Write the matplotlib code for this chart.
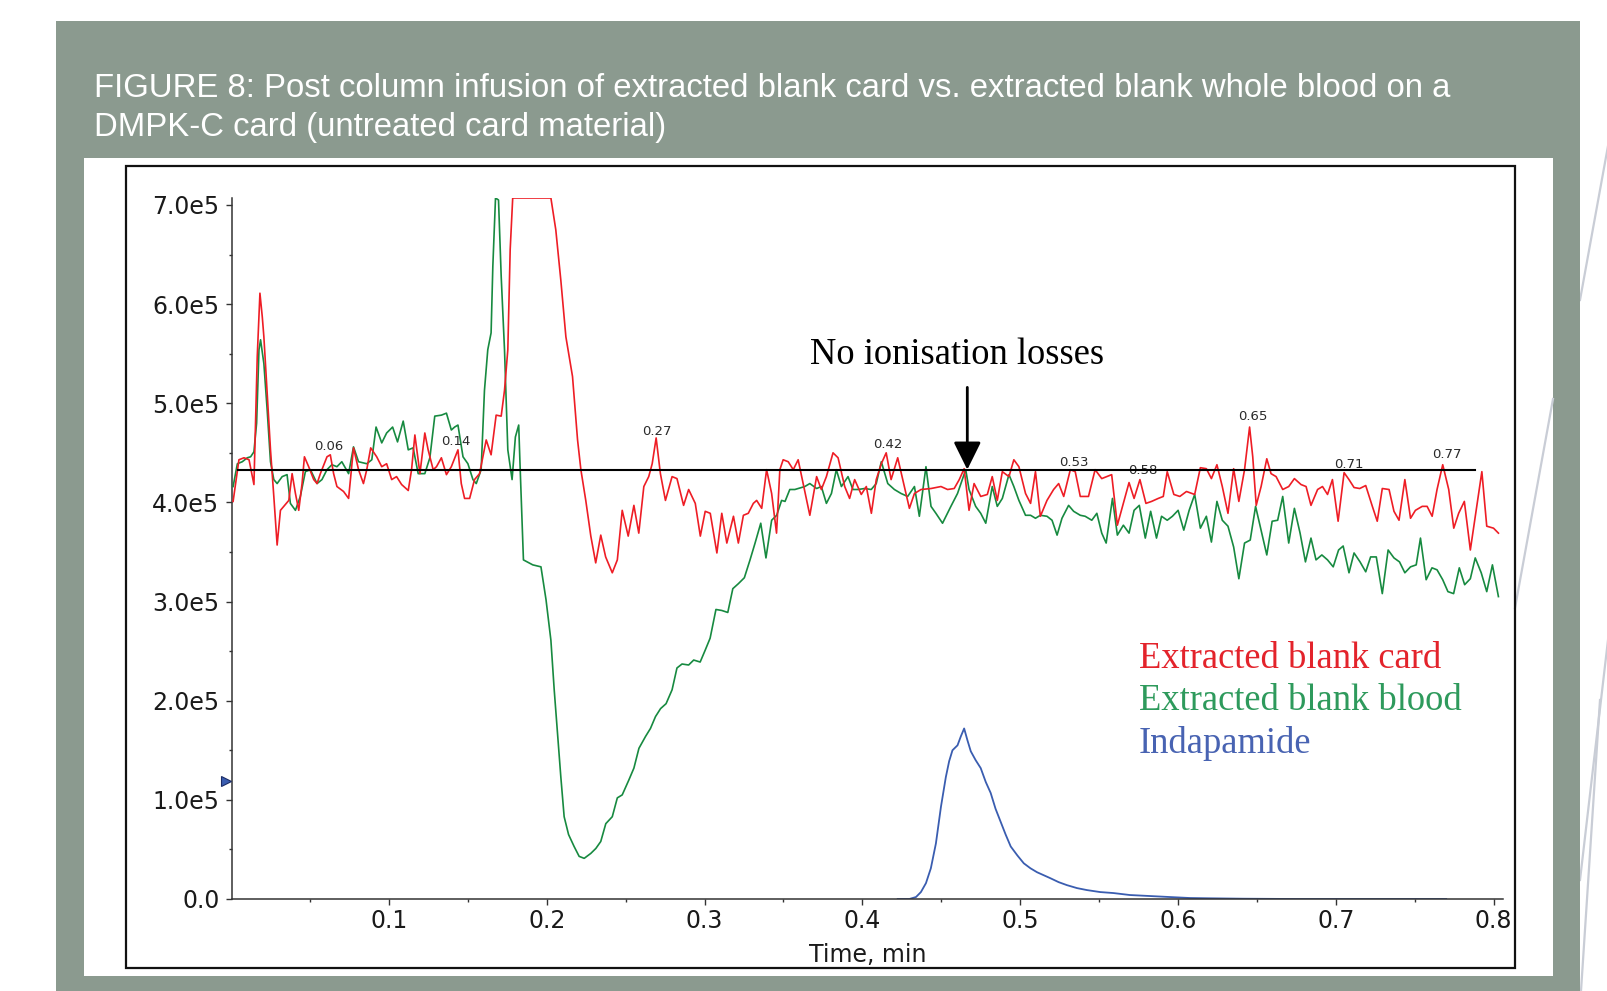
import numpy as np
import matplotlib
matplotlib.use("Agg")
import matplotlib.pyplot as plt
from matplotlib.patches import Rectangle
from matplotlib.lines import Line2D
from matplotlib.ticker import MultipleLocator, FuncFormatter

# ---------------- data (time in min, intensity in units of 1e5 cps) ----------------
red_t = [0.0012, 0.0049, 0.0081, 0.0113, 0.0144, 0.0165, 0.0182, 0.0197, 0.0207, 0.0249, 0.0270, 0.0291,
         0.0312, 0.0333, 0.0365, 0.0386, 0.0407, 0.0428, 0.0449, 0.0464, 0.0491, 0.0523, 0.0544, 0.0565,
         0.0607, 0.0628, 0.0649, 0.0670, 0.0712, 0.0744, 0.0775, 0.0807, 0.0838, 0.0859, 0.0884, 0.0922,
         0.0954, 0.0985, 0.1017, 0.1048, 0.1080, 0.1122, 0.1143, 0.1164, 0.1196, 0.1227, 0.1248, 0.1280,
         0.1301, 0.1332, 0.1364, 0.1395, 0.1437, 0.1458, 0.1479, 0.1511, 0.1542, 0.1574, 0.1616, 0.1647,
         0.1679, 0.1711, 0.1732, 0.1753, 0.1768, 0.1784, 0.2026, 0.2057, 0.2089, 0.2121, 0.2163, 0.2195,
         0.2216, 0.2247, 0.2279, 0.2310, 0.2342, 0.2373, 0.2415, 0.2447, 0.2478, 0.2516, 0.2552, 0.2583,
         0.2615, 0.2646, 0.2668, 0.2693, 0.2720, 0.2752, 0.2794, 0.2825, 0.2867, 0.2899, 0.2941, 0.2973,
         0.3004, 0.3036, 0.3078, 0.3109, 0.3141, 0.3183, 0.3214, 0.3246, 0.3277, 0.3309, 0.3330, 0.3362,
         0.3393, 0.3425, 0.3456, 0.3477, 0.3498, 0.3530, 0.3562, 0.3593, 0.3667, 0.3710, 0.3740, 0.3772,
         0.3814, 0.3846, 0.3888, 0.3919, 0.3951, 0.3993, 0.4025, 0.4057, 0.4088, 0.4120, 0.4151, 0.4182,
         0.4224, 0.4256, 0.4298, 0.4330, 0.4372, 0.4435, 0.4498, 0.4540, 0.4582, 0.4614, 0.4645, 0.4676,
         0.4708, 0.4750, 0.4792, 0.4823, 0.4855, 0.4887, 0.4929, 0.4960, 0.4992, 0.5034, 0.5066, 0.5097,
         0.5128, 0.5170, 0.5212, 0.5244, 0.5276, 0.5318, 0.5349, 0.5381, 0.5433, 0.5475, 0.5517, 0.5549,
         0.5580, 0.5616, 0.5654, 0.5690, 0.5722, 0.5759, 0.5797, 0.5833, 0.5875, 0.5907, 0.5932, 0.5974,
         0.6012, 0.6054, 0.6106, 0.6142, 0.6180, 0.6212, 0.6247, 0.6281, 0.6317, 0.6353, 0.6386, 0.6422,
         0.6454, 0.6474, 0.6496, 0.6527, 0.6563, 0.6590, 0.6622, 0.6664, 0.6702, 0.6738, 0.6780, 0.6812,
         0.6843, 0.6885, 0.6916, 0.6948, 0.6979, 0.7015, 0.7053, 0.7084, 0.7116, 0.7152, 0.7190, 0.7232,
         0.7263, 0.7295, 0.7338, 0.7369, 0.7401, 0.7438, 0.7474, 0.7505, 0.7548, 0.7579, 0.7611, 0.7642,
         0.7678, 0.7716, 0.7748, 0.7779, 0.7815, 0.7853, 0.7894, 0.7926, 0.7957, 0.8000, 0.8031]
red_v = [4.01, 4.43, 4.45, 4.43, 4.18, 5.47, 6.11, 5.87, 5.67, 4.53, 4.06, 3.57,
         3.92, 3.96, 4.02, 4.29, 4.09, 3.92, 4.19, 4.46, 4.36, 4.23, 4.19, 4.29,
         4.46, 4.48, 4.29, 4.16, 4.11, 4.04, 4.55, 4.33, 4.19, 4.33, 4.55, 4.46,
         4.36, 4.39, 4.23, 4.26, 4.18, 4.12, 4.33, 4.68, 4.29, 4.70, 4.53, 4.33,
         4.36, 4.45, 4.28, 4.36, 4.53, 4.19, 4.04, 4.04, 4.23, 4.29, 4.63, 4.48,
         4.88, 4.87, 5.13, 5.54, 6.55, 7.07, 7.07, 6.75, 6.24, 5.67, 5.27, 4.63,
         4.33, 4.02, 3.66, 3.39, 3.67, 3.45, 3.29, 3.42, 3.92, 3.66, 3.97, 3.69,
         4.16, 4.26, 4.39, 4.65, 4.29, 4.02, 4.26, 4.24, 3.97, 4.13, 3.99, 3.66,
         3.91, 3.89, 3.49, 3.89, 3.59, 3.86, 3.59, 3.87, 3.89, 3.99, 4.02, 3.94,
         4.33, 4.09, 3.69, 4.33, 4.43, 4.41, 4.33, 4.43, 3.87, 4.26, 4.13, 4.26,
         4.50, 4.45, 4.16, 4.04, 4.23, 4.08, 4.16, 3.89, 4.23, 4.39, 4.50, 4.23,
         4.45, 4.23, 3.94, 4.09, 4.13, 4.14, 4.16, 4.13, 4.14, 4.23, 4.34, 3.92,
         4.19, 4.06, 4.08, 4.26, 4.02, 4.31, 4.26, 4.43, 4.36, 4.09, 3.99, 4.31,
         3.86, 4.02, 4.13, 4.19, 4.06, 4.33, 4.31, 4.06, 4.06, 4.33, 4.24, 4.26,
         4.28, 3.77, 3.99, 4.20, 4.04, 4.23, 3.99, 4.01, 4.04, 4.06, 4.31, 4.08,
         4.06, 4.11, 4.08, 4.35, 4.34, 4.24, 4.38, 4.16, 3.89, 4.34, 4.01, 4.33,
         4.76, 4.46, 3.97, 4.16, 4.44, 4.29, 4.26, 4.13, 4.16, 4.24, 4.18, 4.16,
         3.97, 4.13, 4.16, 4.08, 4.23, 3.81, 4.30, 4.23, 4.15, 4.14, 4.17, 3.96,
         3.81, 4.14, 4.13, 3.91, 3.82, 4.23, 3.84, 3.92, 3.96, 3.96, 3.86, 4.13,
         4.38, 4.13, 3.74, 3.89, 4.01, 3.52, 3.96, 4.31, 3.76, 3.74, 3.69]

green_t = [0.0012, 0.0039, 0.0070, 0.0102, 0.0123, 0.0144, 0.0161, 0.0176, 0.0186, 0.0207, 0.0228, 0.0249,
           0.0270, 0.0291, 0.0323, 0.0354, 0.0375, 0.0407, 0.0438, 0.0470, 0.0502, 0.0544, 0.0575, 0.0607,
           0.0638, 0.0670, 0.0701, 0.0744, 0.0775, 0.0807, 0.0859, 0.0891, 0.0918, 0.0954, 0.0985, 0.1023,
           0.1054, 0.1090, 0.1122, 0.1153, 0.1185, 0.1227, 0.1259, 0.1290, 0.1332, 0.1364, 0.1395, 0.1416,
           0.1437, 0.1469, 0.1500, 0.1532, 0.1553, 0.1584, 0.1605, 0.1626, 0.1647, 0.1658, 0.1675, 0.1694,
           0.1711, 0.1732, 0.1753, 0.1780, 0.1801, 0.1822, 0.1830, 0.1852, 0.1911, 0.1963, 0.1995, 0.2026,
           0.2047, 0.2068, 0.2089, 0.2110, 0.2138, 0.2173, 0.2205, 0.2237, 0.2279, 0.2311, 0.2342, 0.2374,
           0.2415, 0.2447, 0.2478, 0.2520, 0.2552, 0.2584, 0.2626, 0.2657, 0.2689, 0.2721, 0.2756, 0.2794,
           0.2825, 0.2857, 0.2899, 0.2931, 0.2972, 0.3004, 0.3035, 0.3072, 0.3109, 0.3147, 0.3179, 0.3214,
           0.3252, 0.3288, 0.3320, 0.3356, 0.3389, 0.3425, 0.3457, 0.3488, 0.3510, 0.3540, 0.3572, 0.3635,
           0.3667, 0.3710, 0.3740, 0.3772, 0.3804, 0.3835, 0.3867, 0.3909, 0.3940, 0.3972, 0.4014, 0.4056,
           0.4088, 0.4120, 0.4161, 0.4203, 0.4245, 0.4287, 0.4330, 0.4361, 0.4403, 0.4435, 0.4466, 0.4508,
           0.4561, 0.4603, 0.4655, 0.4676, 0.4718, 0.4750, 0.4782, 0.4823, 0.4855, 0.4887, 0.4929, 0.4960,
           0.4992, 0.5034, 0.5066, 0.5097, 0.5128, 0.5170, 0.5202, 0.5234, 0.5265, 0.5307, 0.5339, 0.5381,
           0.5412, 0.5454, 0.5486, 0.5517, 0.5545, 0.5585, 0.5616, 0.5654, 0.5690, 0.5722, 0.5755, 0.5793,
           0.5827, 0.5864, 0.5896, 0.5932, 0.5965, 0.6001, 0.6037, 0.6071, 0.6106, 0.6142, 0.6180, 0.6212,
           0.6247, 0.6281, 0.6317, 0.6353, 0.6386, 0.6422, 0.6458, 0.6492, 0.6527, 0.6563, 0.6597, 0.6632,
           0.6664, 0.6702, 0.6738, 0.6774, 0.6808, 0.6843, 0.6875, 0.6912, 0.6948, 0.6984, 0.7018, 0.7047,
           0.7084, 0.7116, 0.7154, 0.7190, 0.7221, 0.7257, 0.7295, 0.7332, 0.7369, 0.7404, 0.7438, 0.7474,
           0.7510, 0.7537, 0.7573, 0.7610, 0.7642, 0.7678, 0.7711, 0.7747, 0.7783, 0.7817, 0.7853, 0.7884,
           0.7922, 0.7957, 0.7993, 0.8031]
green_v = [4.16, 4.39, 4.41, 4.45, 4.46, 4.51, 4.80, 5.54, 5.64, 5.40, 4.93, 4.41,
           4.23, 4.19, 4.26, 4.28, 3.99, 3.92, 4.06, 4.31, 4.33, 4.19, 4.23, 4.33,
           4.38, 4.36, 4.41, 4.29, 4.56, 4.41, 4.39, 4.43, 4.76, 4.60, 4.70, 4.76,
           4.61, 4.82, 4.53, 4.55, 4.29, 4.29, 4.45, 4.87, 4.88, 4.90, 4.73, 4.76,
           4.78, 4.46, 4.39, 4.23, 4.19, 4.33, 5.13, 5.54, 5.71, 6.38, 7.07, 7.05,
           6.28, 5.54, 4.53, 4.23, 4.66, 4.78, 4.40, 3.42, 3.37, 3.35, 3.02, 2.61,
           2.11, 1.67, 1.23, 0.83, 0.65, 0.53, 0.43, 0.41, 0.46, 0.51, 0.58, 0.76,
           0.83, 1.02, 1.05, 1.20, 1.32, 1.52, 1.64, 1.72, 1.84, 1.92, 1.97, 2.11,
           2.33, 2.37, 2.36, 2.41, 2.39, 2.51, 2.63, 2.92, 2.91, 2.89, 3.13, 3.18,
           3.24, 3.42, 3.59, 3.79, 3.44, 3.82, 3.87, 4.02, 4.01, 4.13, 4.13, 4.16,
           4.19, 4.14, 4.16, 3.99, 4.09, 4.33, 4.16, 4.26, 4.13, 4.13, 4.14, 4.13,
           4.19, 4.41, 4.19, 4.13, 4.09, 4.06, 4.16, 3.86, 4.36, 3.96, 3.89, 3.79,
           3.96, 4.09, 4.33, 4.13, 3.96, 3.89, 3.79, 4.16, 3.96, 4.04, 4.28, 4.16,
           4.02, 3.87, 3.87, 3.84, 3.87, 3.86, 3.82, 3.67, 3.84, 3.97, 3.91, 3.87,
           3.86, 3.82, 3.89, 3.69, 3.59, 4.04, 3.67, 3.77, 3.69, 3.92, 3.97, 3.64,
           3.91, 3.64, 3.86, 3.82, 3.86, 3.92, 3.72, 3.92, 4.08, 3.74, 3.86, 3.60,
           4.01, 3.82, 3.76, 3.55, 3.23, 3.59, 3.62, 3.96, 3.72, 3.47, 3.81, 3.82,
           4.06, 3.59, 3.94, 3.69, 3.40, 3.64, 3.42, 3.47, 3.42, 3.35, 3.52, 3.56,
           3.29, 3.49, 3.40, 3.30, 3.45, 3.45, 3.08, 3.52, 3.44, 3.40, 3.29, 3.35,
           3.37, 3.64, 3.22, 3.34, 3.32, 3.22, 3.10, 3.08, 3.34, 3.17, 3.23, 3.44,
           3.29, 3.10, 3.37, 3.05]

blue_t = [0.4224, 0.4298, 0.4340, 0.4371, 0.4403, 0.4434, 0.4466, 0.4498, 0.4529, 0.4550, 0.4571, 0.4603,
          0.4624, 0.4645, 0.4666, 0.4687, 0.4718, 0.4750, 0.4782, 0.4813, 0.4844, 0.4876, 0.4908, 0.4940,
          0.4982, 0.5023, 0.5065, 0.5107, 0.5149, 0.5191, 0.5244, 0.5296, 0.5360, 0.5423, 0.5507, 0.5591,
          0.5696, 0.5822, 0.5946, 0.6075, 0.6201, 0.6411, 0.6747, 0.7700]
blue_v = [0.0, 0.0, 0.02, 0.07, 0.16, 0.31, 0.56, 0.93, 1.23, 1.39, 1.50, 1.55,
          1.64, 1.72, 1.60, 1.49, 1.40, 1.32, 1.18, 1.07, 0.91, 0.78, 0.65, 0.53,
          0.44, 0.36, 0.31, 0.27, 0.24, 0.21, 0.17, 0.14, 0.11, 0.09, 0.07, 0.06,
          0.04, 0.03, 0.02, 0.01, 0.007, 0.003, 0.0, 0.0]

reference_level = 4.33          # horizontal reference line (1e5 cps)
reference_span = [0.004, 0.788]  # time span of that line

peak_labels = ["0.06", "0.14", "0.27", "0.42", "0.53", "0.58", "0.65", "0.71", "0.77"]
peak_label_t = [0.0620, 0.1425, 0.2698, 0.4163, 0.5341, 0.5778, 0.6476, 0.7084, 0.7705]
peak_label_v = [4.56, 4.61, 4.72, 4.58, 4.40, 4.32, 4.87, 4.38, 4.48]

legend_labels = ["Extracted blank card", "Extracted blank blood", "Indapamide"]
title_lines = ["FIGURE 8: Post column infusion of extracted blank card vs. extracted blank whole blood on a",
               "DMPK-C card (untreated card material)"]
annotation_text = "No ionisation losses"
x_label = "Time, min"

SCALE = 1e5
# ---------------------------------------------------------------------------------

W, H = 1608, 991
fig = plt.figure(figsize=(W / 100, H / 100), dpi=100)
fig.patch.set_facecolor("white")

def P(px, py):
    return (px / W, 1 - py / H)

def frect(x0, y0, x1, y1, **kw):
    (fx0, fy1), (fx1, fy0) = P(x0, y0), P(x1, y1)
    r = Rectangle((fx0, fy0), fx1 - fx0, fy1 - fy0, transform=fig.transFigure, **kw)
    fig.add_artist(r)
    return r

PANEL = "#8b9a8f"
# decorative page lines on the right
for (a, b) in [((1608, 146), (1580, 300)),
               ((1608, 640), (1580, 880)), ((1600, 700), (1581, 991))]:
    fig.add_artist(Line2D([a[0] / W, b[0] / W], [1 - a[1] / H, 1 - b[1] / H],
                          transform=fig.transFigure, color="#c9cdd6", lw=1.6, zorder=-12))
frect(56, 21, 1580, 991, facecolor=PANEL, edgecolor="none", zorder=-11)
frect(84, 158, 1553, 976, facecolor="white", edgecolor="none", zorder=-10)
frect(126, 166, 1515, 968, facecolor="none", edgecolor="#111111", lw=1.6, zorder=-5)

# decorative line segment on inner white panel
fig.add_artist(Line2D([1553 / W, 1515 / W], [1 - 399 / H, 1 - 608 / H],
                      transform=fig.transFigure, color="#c9cdd6", lw=1.6, zorder=-9))

# axes
ax_l, ax_r, ax_b, ax_t = 232, 1503, 899, 198
ax = fig.add_axes([ax_l / W, 1 - ax_b / H, (ax_r - ax_l) / W, (ax_b - ax_t) / H])
ax.patch.set_alpha(0)
ax.set_xlim(0.0005, 0.806)
ax.set_ylim(0, 7.07 * SCALE)
for s in ["top", "right"]:
    ax.spines[s].set_visible(False)
for s in ["left", "bottom"]:
    ax.spines[s].set_linewidth(1.1)
    ax.spines[s].set_color("#333333")

ax.xaxis.set_major_locator(MultipleLocator(0.1))
ax.xaxis.set_minor_locator(MultipleLocator(0.05))
ax.yaxis.set_major_locator(MultipleLocator(1e5))
ax.yaxis.set_minor_locator(MultipleLocator(0.5e5))
ax.xaxis.set_major_formatter(FuncFormatter(lambda v, p: f"{v:.1f}"))
ax.yaxis.set_major_formatter(FuncFormatter(lambda v, p: "0.0" if abs(v) < 1 else f"{v / 1e5:.1f}e5"))
ax.tick_params(which="major", length=4, width=1, color="#333333", direction="out",
               labelsize=17, labelcolor="#1a1a1a")
ax.tick_params(which="minor", length=2.5, width=1, color="#333333", direction="out")
ax.tick_params(axis="y", which="major", pad=5)
ax.tick_params(axis="x", which="major", pad=3)
for lab in ax.get_xticklabels() + ax.get_yticklabels():
    lab.set_fontfamily("DejaVu Sans")
ax.set_xlabel(x_label, fontsize=17, family="DejaVu Sans", color="#1a1a1a", labelpad=7.5)

blue_line, = ax.plot(blue_t, np.array(blue_v) * SCALE, color="#3a5db0", lw=1.3, zorder=2)
green_line, = ax.plot(green_t, np.array(green_v) * SCALE, color="#178a40", lw=1.2, zorder=3)
red_line, = ax.plot(red_t, np.array(red_v) * SCALE, color="#ee1d25", lw=1.2, zorder=4)
ax.plot(reference_span, [reference_level * SCALE] * 2, color="black", lw=1.5, zorder=5)

for lab, t, v in zip(peak_labels, peak_label_t, peak_label_v):
    ax.text(t, v * SCALE, lab, ha="center", va="center", fontsize=9.5,
            family="DejaVu Sans", color="#2a2a2a", zorder=4.5)

# small blue marker at left of y axis
ax.plot([-0.0035], [1.19 * SCALE], marker=">", ms=7, color="#3a5db0", mec="#1c2c66",
        mew=0.8, clip_on=False, zorder=6)

# arrow
ax.annotate("", xy=(0.4665, reference_level * SCALE), xytext=(0.4665, 5.16 * SCALE),
            arrowprops=dict(arrowstyle="-|>,head_length=0.85,head_width=0.42", lw=2,
                            color="black", mutation_scale=20, shrinkA=0, shrinkB=0),
            zorder=6)

# texts
renderer = fig.canvas.get_renderer()

def fit(txt, target_px):
    bb = txt.get_window_extent(renderer)
    txt.set_fontsize(txt.get_fontsize() * target_px / bb.width)

t1 = fig.text(*P(94, 97), title_lines[0], ha="left", va="baseline", color="white",
              fontsize=20, family="Liberation Sans")
fit(t1, 1355)
t2 = fig.text(*P(94, 136), title_lines[1], ha="left", va="baseline", color="white",
              fontsize=t1.get_fontsize(), family="Liberation Sans")

ann = fig.text(*P(810, 364), annotation_text, ha="left", va="baseline", color="black",
               fontsize=26, family="Liberation Serif")
fit(ann, 294)

leg_colors = ["#e3232b", "#2e9a5c", "#4863b2"]
leg_base = [668, 710.5, 753]
l0 = fig.text(*P(1139, leg_base[0]), legend_labels[0], ha="left", va="baseline",
              color=leg_colors[0], fontsize=26, family="Liberation Serif")
fit(l0, 302)
for lab, c, b in zip(legend_labels[1:], leg_colors[1:], leg_base[1:]):
    fig.text(*P(1139, b), lab, ha="left", va="baseline", color=c,
             fontsize=l0.get_fontsize(), family="Liberation Serif")

fig.savefig("out.png", dpi=100, facecolor="white")
